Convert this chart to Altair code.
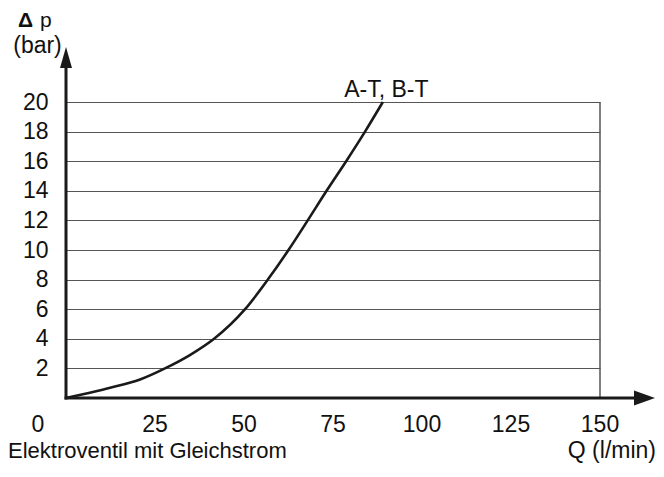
import altair as alt
import pandas as pd

# ---- data ----
Q = [0, 6.7, 12.4, 20.8, 27.8, 34.8, 41.6, 50.3, 56.7, 62.5, 67.9, 73.2, 78.7, 84, 89]
DP = [0, 0.36, 0.69, 1.25, 2, 2.9, 4, 6, 8, 10, 12, 14, 16, 18, 20]
X_TICKS = [25, 50, 75, 100, 125, 150]
Y_TICKS = [2, 4, 6, 8, 10, 12, 14, 16, 18, 20]
CURVE_LABEL = "A-T, B-T"
X_TITLE = "Q (l/min)"
FOOTNOTE = "Elektroventil mit Gleichstrom"

FONT = "Liberation Sans"
FS = 23
W, H = 534, 296
XMAX, YMAX = 150, 20
X_ARROW, Y_ARROW = 162.5, 23.0

xs = alt.Scale(domain=[0, XMAX], nice=False, zero=False)
ys = alt.Scale(domain=[0, YMAX], nice=False, zero=False)

curve_df = pd.DataFrame({"Q": Q, "dp": DP})

base_grid = alt.Chart(pd.DataFrame({"Q": [0], "dp": [0]})).mark_point(opacity=0).encode(
    x=alt.X("Q:Q", scale=xs, axis=None),
    y=alt.Y("dp:Q", scale=ys, axis=alt.Axis(
        values=Y_TICKS, tickCount=40, format="d", grid=True, gridColor="#555", gridWidth=1,
        domain=False, ticks=False, tickSize=0, labelPadding=18, labelOverlap=False,
        labelFont=FONT, labelFontSize=FS, labelColor="#111", title=None)),
)

curve = alt.Chart(curve_df).mark_line(color="#1a1a1a", strokeWidth=2.6, interpolate="monotone").encode(
    x=alt.X("Q:Q", scale=xs), y=alt.Y("dp:Q", scale=ys))

right_line = alt.Chart(pd.DataFrame({"x": [XMAX], "y": [0], "y2": [YMAX]})).mark_rule(
    color="#555", strokeWidth=1.5).encode(x=alt.X("x:Q", scale=xs), y=alt.Y("y:Q", scale=ys), y2="y2:Q")

y_axis_line = alt.Chart(pd.DataFrame({"x": [0], "y": [-0.1], "y2": [Y_ARROW]})).mark_rule(
    color="#1a1a1a", strokeWidth=3).encode(x=alt.X("x:Q", scale=xs), y=alt.Y("y:Q", scale=ys), y2="y2:Q")
x_axis_line = alt.Chart(pd.DataFrame({"x": [-0.4], "x2": [X_ARROW], "y": [0]})).mark_rule(
    color="#1a1a1a", strokeWidth=3).encode(x=alt.X("x:Q", scale=xs), x2="x2:Q", y=alt.Y("y:Q", scale=ys))

up_arrow = alt.Chart(pd.DataFrame({"x": [0], "y": [Y_ARROW]})).mark_point(
    shape="M0,-1L0.57,1L-0.57,1Z", size=441, filled=True, color="#1a1a1a", opacity=1, strokeWidth=0).encode(
    x=alt.X("x:Q", scale=xs), y=alt.Y("y:Q", scale=ys))
right_arrow = alt.Chart(pd.DataFrame({"x": [X_ARROW], "y": [0]})).mark_point(
    shape="M1,0L-1,-0.71L-1,0.71Z", size=441, filled=True, color="#1a1a1a", opacity=1, strokeWidth=0).encode(
    x=alt.X("x:Q", scale=xs), y=alt.Y("y:Q", scale=ys))

xlab_df = pd.DataFrame({"x": X_TICKS, "t": [str(v) for v in X_TICKS]})
x_labels = alt.Chart(xlab_df).mark_text(font=FONT, fontSize=FS, color="#111", baseline="alphabetic").encode(
    x=alt.X("x:Q", scale=xs), y=alt.value(330), text="t:N")

def txt(s, x, y, align="left", weight="normal", size=FS):
    return alt.Chart(pd.DataFrame({"t": [s]})).mark_text(
        font=FONT, fontSize=size, color="#111", align=align, baseline="alphabetic", fontWeight=weight
    ).encode(x=alt.value(x), y=alt.value(y), text="t:N")

zero_lab = txt("0", -28, 330, align="center")
delta = txt("Δ", -40.5, -75, align="center", weight="bold", size=21)
p_lab = txt("p", -26, -75, size=21)
bar_lab = txt("(bar)", -28.5, -49, align="center")
q_lab = txt(X_TITLE, 590, 356, align="right")
foot = txt(FOOTNOTE, -58, 356, size=22)

curve_lab = alt.Chart(pd.DataFrame({"x": [89], "y": [20], "t": [CURVE_LABEL]})).mark_text(
    font=FONT, fontSize=FS, color="#111", align="center", baseline="alphabetic", dx=3.5, dy=-5).encode(
    x=alt.X("x:Q", scale=xs), y=alt.Y("y:Q", scale=ys), text="t:N")

chart = alt.layer(
    base_grid, right_line, curve, y_axis_line, x_axis_line, up_arrow, right_arrow,
    x_labels, zero_lab, delta, p_lab, bar_lab, q_lab, foot, curve_lab
).properties(
    width=W, height=H,
    autosize=alt.AutoSizeParams(type="none"),
    padding={"left": 58, "top": 94, "right": 56, "bottom": 65},
    background="white",
).configure_view(stroke=None)

chart.save("out.html", embed_options={"renderer": "svg", "actions": False})
